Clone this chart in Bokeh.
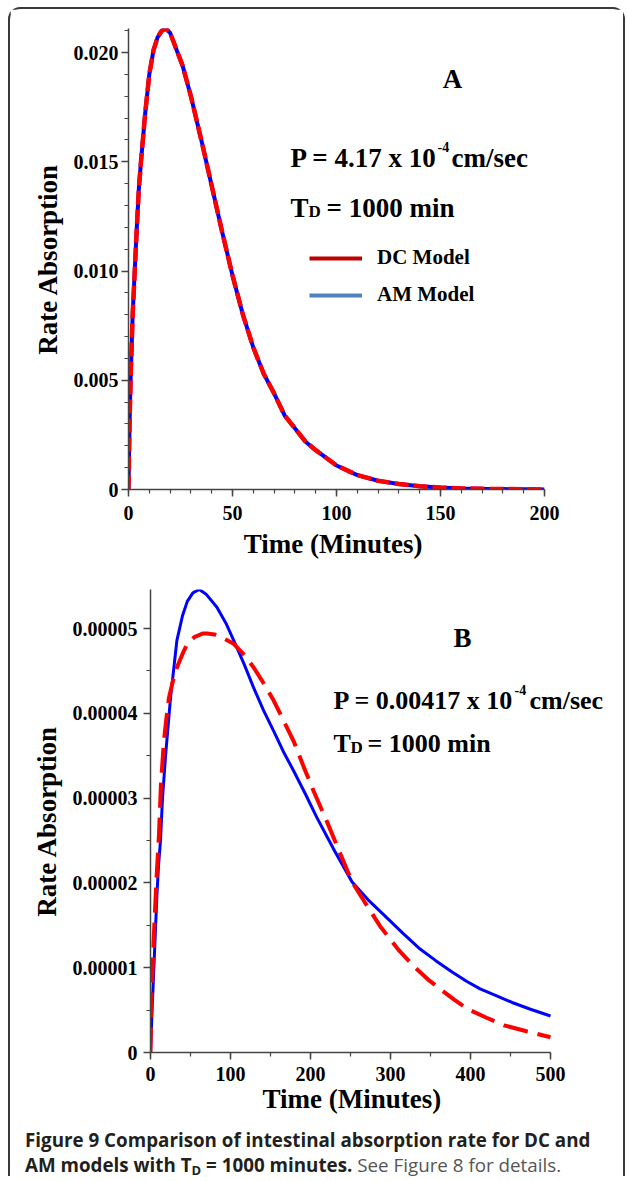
from bokeh.plotting import figure
from bokeh.models import Range1d, FixedTicker, Label, Legend, LegendItem, Div, Title
from bokeh.layouts import column, row
from bokeh.embed import file_html
from bokeh.resources import INLINE

# ---------------- data ----------------
# Panel A (P = 4.17e-4 cm/sec): both models overlap
A_time = [0, 0.5, 1, 2, 3, 4, 5, 6, 8, 10, 12, 14, 16, 18, 20, 22, 24, 26, 28, 30,
          35, 40, 45, 50, 55, 60, 65, 70, 75, 80, 85, 90, 100, 110, 120, 130, 140,
          150, 160, 170, 180, 190, 200]
A_dc = [0, 0.0030, 0.0050, 0.0080, 0.0100, 0.0120, 0.0138, 0.0150, 0.0172, 0.0190,
        0.0201, 0.0207, 0.0210, 0.0211, 0.0209, 0.0204, 0.0199, 0.0194, 0.0187, 0.0180,
        0.0160, 0.0139, 0.0118, 0.0098, 0.0080, 0.0065, 0.0053, 0.0044, 0.0034, 0.0028,
        0.0022, 0.0018, 0.0011, 0.00066, 0.00040, 0.00025, 0.00015, 0.00009, 0.00005,
        0.00003, 0.00002, 0.00001, 0.0]
A_am = [0, 0.0030, 0.0050, 0.0080, 0.0100, 0.0120, 0.0138, 0.0150, 0.0172, 0.0190,
        0.0201, 0.0207, 0.0210, 0.0211, 0.0209, 0.0204, 0.0199, 0.0194, 0.0187, 0.0180,
        0.0160, 0.0139, 0.0118, 0.0098, 0.0080, 0.0065, 0.0053, 0.0044, 0.0034, 0.0028,
        0.0022, 0.0018, 0.0011, 0.00066, 0.00040, 0.00025, 0.00015, 0.00009, 0.00005,
        0.00003, 0.00002, 0.00001, 0.0]

# Panel B (P = 0.00417e-4 cm/sec), values in units of 1e-5
B_time_am = [0, 2, 4, 6, 8, 10, 12.5, 15, 19, 25, 33, 40, 46, 53, 61, 70, 83, 95, 104,
             117, 129, 141, 154, 166, 179, 193, 208, 230, 252, 272, 292, 315, 337, 357,
             377, 395, 412, 432, 452, 475, 500]
B_am_e5 = [0, 0.5, 0.95, 1.4, 1.85, 2.2, 2.5, 3.0, 3.52, 4.18, 4.86, 5.15, 5.32, 5.42,
           5.46, 5.40, 5.25, 5.05, 4.86, 4.58, 4.30, 4.04, 3.79, 3.55, 3.32, 3.06, 2.77,
           2.38, 2.01, 1.80, 1.62, 1.41, 1.22, 1.08, 0.95, 0.84, 0.75, 0.67, 0.59, 0.51,
           0.43]
B_time_dc = [0, 1, 3, 5, 7.5, 10.5, 13, 16.7, 20, 23, 28, 33, 40, 46, 55, 65, 71, 80, 90,
             104, 116, 129, 141, 154, 166, 179, 191, 204, 222, 237, 252, 270, 287, 310,
             332, 347, 362, 380, 397, 420, 442, 470, 500]
B_dc_e5 = [0, 0.55, 1.1, 1.55, 2.05, 2.55, 3.15, 3.67, 3.95, 4.18, 4.38, 4.54, 4.70,
           4.82, 4.90, 4.94, 4.94, 4.93, 4.89, 4.82, 4.70, 4.54, 4.36, 4.15, 3.92, 3.67,
           3.38, 3.08, 2.69, 2.35, 2.01, 1.74, 1.49, 1.21, 0.99, 0.86, 0.75, 0.62, 0.51,
           0.41, 0.32, 0.25, 0.18]
B_am = [v * 1e-5 for v in B_am_e5]
B_dc = [v * 1e-5 for v in B_dc_e5]

A_xticks = [0, 50, 100, 150, 200]
A_yticks = [0, 0.005, 0.010, 0.015, 0.020]
B_xticks = [0, 100, 200, 300, 400, 500]
B_yticks = [0, 0.00001, 0.00002, 0.00003, 0.00004, 0.00005]

SERIF = "Liberation Serif"
AX = "#444444"
NAN = float("nan")
XTITLE = "Time  (Minutes)"

# page geometry: content of the card starts at (10, 9)
OX, OY = 10, 9


def style_axes(p, xfmt, yfmt, ylab_so, xlab_so, xtitle_so):
    for ax in (p.xaxis[0], p.yaxis[0]):
        ax.axis_line_color = AX
        ax.axis_line_width = 1.5
        ax.major_tick_line_color = AX
        ax.major_tick_line_width = 1.5
        ax.minor_tick_line_color = AX
        ax.minor_tick_line_width = 1.2
        ax.major_tick_in = 0
        ax.major_tick_out = 7
        ax.minor_tick_in = 0
        ax.minor_tick_out = 4
        ax.major_label_text_font = SERIF
        ax.major_label_text_font_style = "bold"
        ax.major_label_text_font_size = "20px"
        ax.major_label_text_color = "black"
        ax.axis_label_text_font = SERIF
        ax.axis_label_text_font_style = "bold"
        ax.axis_label_text_font_size = "27px"
        ax.axis_label_text_color = "black"
    p.xaxis.major_label_standoff = xlab_so
    p.yaxis.major_label_standoff = ylab_so
    p.xaxis.axis_label_standoff = xtitle_so
    p.yaxis.axis_label_standoff = 8
    p.xaxis.major_label_overrides = xfmt
    p.yaxis.major_label_overrides = yfmt
    p.xgrid.visible = False
    p.ygrid.visible = False
    p.outline_line_color = None


def add_lbl(p, x, y, text, size, align="left"):
    p.add_layout(Label(x=x, y=y, text=text, text_font=SERIF, text_font_style="bold",
                       text_font_size=size, text_color="black", text_align=align,
                       text_baseline="alphabetic"))


# ---------------- Panel A ----------------
A_fx0, A_fy0, A_fw, A_fh = 128, 28, 416, 461   # frame left / top in page px
A_fy1 = A_fy0 + A_fh
A_xmax, A_ymax = 200, 0.0211
pA = figure(frame_width=A_fw, frame_height=A_fh,
            min_border_left=A_fx0 - OX, min_border_right=613 - (A_fx0 - OX) - A_fw,
            min_border_top=A_fy0 - OY, min_border_bottom=76,
            x_range=Range1d(0, A_xmax), y_range=Range1d(0, A_ymax),
            output_backend="svg", toolbar_location=None,
            x_axis_label=XTITLE, y_axis_label="Rate Absorption")
pA.xaxis.ticker = FixedTicker(ticks=A_xticks, minor_ticks=list(range(0, 201, 10)))
pA.yaxis.ticker = FixedTicker(ticks=A_yticks, minor_ticks=[i * 0.001 for i in range(22)])
style_axes(pA, {v: str(v) for v in A_xticks},
           {v: ("0" if v == 0 else "%.3f" % v) for v in A_yticks}, 3, 9, 6)

pA.line(A_time, A_am, line_color="#0000ff", line_width=4)
pA.line(A_time, A_dc, line_color="#ff0000", line_width=4.5, line_dash="14 5")


def ax_A(px):
    return (px - A_fx0) * A_xmax / A_fw


def ay_A(py):
    return (A_fy1 - py) * A_ymax / A_fh


add_lbl(pA, ax_A(452), ay_A(78), "A", "27px", "center")
add_lbl(pA, ax_A(290), ay_A(157), "P = 4.17 x 10", "27px")
add_lbl(pA, ax_A(437), ay_A(146), "-4", "14px")
add_lbl(pA, ax_A(451), ay_A(157), "cm/sec", "27px")
add_lbl(pA, ax_A(290), ay_A(207), "T", "27px")
add_lbl(pA, ax_A(308), ay_A(211), "D", "17px")
add_lbl(pA, ax_A(326), ay_A(207), "= 1000 min", "27px")

r_dc = pA.line([NAN], [NAN], line_color="#c00000", line_width=4)
r_am = pA.line([NAN], [NAN], line_color="#4f81bd", line_width=4)
legend = Legend(items=[LegendItem(label="DC Model", renderers=[r_dc]),
                       LegendItem(label="AM Model", renderers=[r_am])],
                location=(309 - A_fx0, A_fy1 - 307), glyph_width=53, glyph_height=20,
                label_height=20, spacing=12, padding=0, margin=0, border_line_color=None,
                background_fill_alpha=0, label_text_font=SERIF,
                label_text_font_style="bold", label_text_font_size="21px",
                label_text_color="black", label_standoff=15)
pA.add_layout(legend)
A_height = A_fy0 - OY + A_fh + 76

# ---------------- Panel B ----------------
B_top = OY + A_height
B_fx0, B_fy0, B_fh = 150, 589, 463
B_fy1 = B_fy0 + B_fh
B_xmax, B_ymax = 500, 0.0000546
B_pxu = 400 / B_xmax                       # 0.8 px per minute
B_fw = 613 - (B_fx0 - OX) - 4              # frame runs past 500 so texts are not clipped
pB = figure(frame_width=B_fw, frame_height=B_fh,
            min_border_left=B_fx0 - OX, min_border_right=4,
            min_border_top=B_fy0 - B_top, min_border_bottom=68,
            x_range=Range1d(0, B_fw / B_pxu), y_range=Range1d(0, B_ymax),
            output_backend="svg", toolbar_location=None,
            y_axis_label="Rate Absorption")
pB.xaxis.ticker = FixedTicker(ticks=B_xticks, minor_ticks=list(range(0, 501, 50)))
pB.yaxis.ticker = FixedTicker(ticks=B_yticks, minor_ticks=[i * 0.000005 for i in range(11)])
pB.xaxis.bounds = (0, B_xmax)
style_axes(pB, {v: str(v) for v in B_xticks},
           {v: ("0" if v == 0 else "%.5f" % v) for v in B_yticks}, 6, 7, 5)

# x-axis title centred on the 0..500 axis (the frame itself is wider)
pB.add_layout(Title(text=XTITLE, align="left", offset=112, standoff=0,
                    vertical_align="top", text_baseline="top",
                    text_font=SERIF, text_font_style="bold", text_font_size="27px",
                    text_color="black"), "below")

pB.line(B_time_am, B_am, line_color="#0000ff", line_width=3)
pB.line(B_time_dc, B_dc, line_color="#ff0000", line_width=4, line_dash="25 10")


def ax_B(px):
    return (px - B_fx0) / B_pxu


def ay_B(py):
    return (B_fy1 - py) * B_ymax / B_fh


add_lbl(pB, ax_B(462), ay_B(637), "B", "27px", "center")
add_lbl(pB, ax_B(333), ay_B(700), "P = 0.00417 x 10", "26px")
add_lbl(pB, ax_B(514), ay_B(689), "-4", "14px")
add_lbl(pB, ax_B(529), ay_B(700), "cm/sec", "26px")
add_lbl(pB, ax_B(333), ay_B(743), "T", "26px")
add_lbl(pB, ax_B(350), ay_B(747), "D", "17px")
add_lbl(pB, ax_B(367), ay_B(743), "= 1000 min", "26px")

# ---------------- caption ----------------
cap_html = (
    "<div style=\"font-family:'Open Sans';font-size:18.8px;line-height:25px;"
    "padding:8px 0 0 15px;color:#231f20;white-space:nowrap;\">"
    "<span style=\"font-weight:700\">Figure 9 Comparison of intestinal absorption rate for DC and"
    "<br>AM models with T<sub style=\"font-size:13px;vertical-align:-3px;line-height:0\">D</sub>"
    "&nbsp;=&nbsp;1000 minutes.</span>"
    " <span style=\"font-weight:400;color:#555555\">See Figure 8 for details.</span></div>"
)
cap = Div(text=cap_html, width=613, height=56, margin=0)

layout = column(row(pA), row(pB), cap,
                styles={"margin-left": "8px", "margin-top": "7px",
                        "border": "2px solid #3a3a3a", "border-bottom": "none",
                        "border-radius": "12px 12px 0 0", "background": "white"})

open("out.html", "w").write(file_html(layout, INLINE))
